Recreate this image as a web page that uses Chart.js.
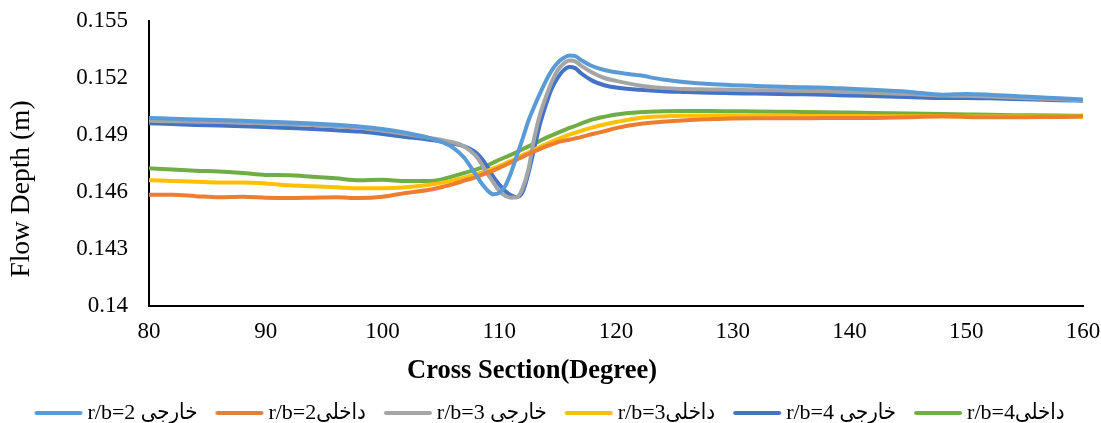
<!DOCTYPE html>
<html>
<head>
<meta charset="utf-8">
<script src="https://cdn.jsdelivr.net/npm/chart.js@4/dist/chart.umd.min.js"></script>
<style>
  html, body { margin: 0; padding: 0; background: #fff; }
  #wrap { width: 1101px; height: 423px; }
</style>
</head>
<body>
<div id="wrap"><canvas id="c" width="1101" height="423"></canvas></div>
<script>
// Cross-section positions (degrees) shared by every series
const degrees = [80, 82, 84, 86, 88, 90, 92, 94, 96, 98, 100, 102, 104, 105, 106, 107,
  108, 108.5, 109, 109.5, 110, 110.5, 111, 111.5, 112, 112.5, 113, 113.5, 114, 114.5,
  115, 115.5, 116, 116.5, 117, 118, 119, 120, 122, 124, 126, 128, 130, 132, 135, 138,
  140, 142, 145, 148, 150, 152, 155, 158, 160];

// Flow depth (m), outer wall, r/b = 2
const outer2 = [0.14990, 0.14986, 0.14982, 0.14979, 0.14975, 0.14970, 0.14966, 0.14961, 0.14954, 0.14945,
  0.14932, 0.14912, 0.14885, 0.14865, 0.14835, 0.14780,
  0.14690, 0.14645, 0.14608, 0.14588, 0.14595, 0.14630, 0.14700, 0.14790, 0.14880, 0.14975,
  0.15050, 0.15120, 0.15185, 0.15240, 0.15280, 0.15305, 0.15318, 0.15315, 0.15295,
  0.15262, 0.15242, 0.15230, 0.15214, 0.15192, 0.15178, 0.15168, 0.15162, 0.15158, 0.15153, 0.15149,
  0.15143, 0.15138, 0.15128, 0.15112, 0.15116, 0.15112, 0.15102, 0.15093, 0.15087];

// Flow depth (m), inner wall, r/b = 2
const inner2 = [0.14585, 0.14585, 0.14578, 0.14572, 0.14575, 0.14570, 0.14568, 0.14570, 0.14572, 0.14568,
  0.14575, 0.14595, 0.14612, 0.14625, 0.14640, 0.14660,
  0.14678, 0.14690, 0.14702, 0.14714, 0.14727, 0.14741, 0.14756, 0.14770, 0.14785, 0.14800,
  0.14813, 0.14827, 0.14840, 0.14851, 0.14862, 0.14869, 0.14875, 0.14882, 0.14889,
  0.14905, 0.14920, 0.14936, 0.14958, 0.14970, 0.14978, 0.14983, 0.14987, 0.14988, 0.14988, 0.14989,
  0.14989, 0.14990, 0.14993, 0.14999, 0.14995, 0.14993, 0.14994, 0.14995, 0.14997];

// Flow depth (m), outer wall, r/b = 3
const outer3 = [0.14975, 0.14972, 0.14970, 0.14968, 0.14965, 0.14960, 0.14957, 0.14953, 0.14946, 0.14938,
  0.14922, 0.14905, 0.14885, 0.14875, 0.14862, 0.14840,
  0.14790, 0.14745, 0.14695, 0.14650, 0.14605, 0.14580, 0.14570, 0.14572, 0.14620, 0.14720,
  0.14885, 0.15010, 0.15100, 0.15180, 0.15240, 0.15275, 0.15292, 0.15288, 0.15265,
  0.15228, 0.15200, 0.15185, 0.15161, 0.15148, 0.15142, 0.15140, 0.15138, 0.15136, 0.15134, 0.15130,
  0.15126, 0.15122, 0.15116, 0.15108, 0.15106, 0.15102, 0.15095, 0.15088, 0.15082];

// Flow depth (m), inner wall, r/b = 3
const inner3 = [0.14662, 0.14658, 0.14654, 0.14650, 0.14650, 0.14645, 0.14635, 0.14630, 0.14625, 0.14620,
  0.14620, 0.14625, 0.14638, 0.14648, 0.14660, 0.14675,
  0.14692, 0.14702, 0.14712, 0.14724, 0.14736, 0.14750, 0.14764, 0.14778, 0.14793, 0.14808,
  0.14822, 0.14837, 0.14851, 0.14865, 0.14878, 0.14890, 0.14902, 0.14912, 0.14922,
  0.14940, 0.14955, 0.14968, 0.14990, 0.14998, 0.15001, 0.15002, 0.15002, 0.15002, 0.15001, 0.15000,
  0.15000, 0.14999, 0.14999, 0.14999, 0.14997, 0.14997, 0.14997, 0.14997, 0.14997];

// Flow depth (m), outer wall, r/b = 4
const outer4 = [0.14962, 0.14958, 0.14953, 0.14950, 0.14946, 0.14942, 0.14937, 0.14932, 0.14925, 0.14918,
  0.14905, 0.14890, 0.14875, 0.14866, 0.14855, 0.14840,
  0.14808, 0.14775, 0.14730, 0.14680, 0.14640, 0.14605, 0.14583, 0.14573, 0.14600, 0.14700,
  0.14830, 0.14960, 0.15060, 0.15145, 0.15200, 0.15240, 0.15258, 0.15252, 0.15225,
  0.15185, 0.15162, 0.15150, 0.15138, 0.15130, 0.15126, 0.15122, 0.15120, 0.15118, 0.15115, 0.15112,
  0.15108, 0.15105, 0.15100, 0.15095, 0.15095, 0.15093, 0.15088, 0.15083, 0.15080];

// Flow depth (m), inner wall, r/b = 4
const inner4 = [0.14725, 0.14718, 0.14712, 0.14708, 0.14700, 0.14690, 0.14688, 0.14680, 0.14672, 0.14662,
  0.14664, 0.14658, 0.14658, 0.14665, 0.14682, 0.14700,
  0.14718, 0.14728, 0.14740, 0.14755, 0.14770, 0.14783, 0.14795, 0.14810, 0.14825, 0.14840,
  0.14855, 0.14870, 0.14885, 0.14898, 0.14911, 0.14924, 0.14937, 0.14948, 0.14960,
  0.14982, 0.14996, 0.15008, 0.15020, 0.15025, 0.15026, 0.15026, 0.15025, 0.15024, 0.15022, 0.15020,
  0.15018, 0.15016, 0.15013, 0.15010, 0.15008, 0.15006, 0.15004, 0.15002, 0.15001];

const seriesLabels = ['r/b=2 خارجی', 'r/b=2داخلی', 'r/b=3 خارجی', 'r/b=3داخلی', 'r/b=4 خارجی', 'r/b=4داخلی'];
const seriesColors = ['#5B9BD5', '#ED7D31', '#A5A5A5', '#FFC000', '#4472C4', '#70AD47'];
const seriesValues = [outer2, inner2, outer3, inner3, outer4, inner4];

// Axis ticks and titles
const xTicks = [80, 90, 100, 110, 120, 130, 140, 150, 160];
const yTicks = [0.14, 0.143, 0.146, 0.149, 0.152, 0.155];
const yTickLabels = ['0.14', '0.143', '0.146', '0.149', '0.152', '0.155'];
const xTitle = 'Cross Section(Degree)';
const yTitle = 'Flow Depth (m)';

const serif = "'Liberation Serif', 'Times New Roman', 'DejaVu Sans Condensed', serif";
Chart.defaults.font.family = serif;
Chart.defaults.color = '#000';

const SWATCH_BOX = 42;   // legend box width reserved before the text
const SWATCH_LINE = 48;  // drawn length of the legend line

// Legend swatch image: centred on the box by Chart.js, so the line is
// offset to start at the box's left edge and run a little past it.
function swatch(color) {
  const w = 2 * SWATCH_LINE - SWATCH_BOX + 4;
  const start = w / 2 - SWATCH_BOX / 2;
  const cv = document.createElement('canvas');
  cv.width = w; cv.height = 8;
  const g = cv.getContext('2d');
  g.strokeStyle = color;
  g.lineWidth = 4;
  g.lineCap = 'round';
  g.beginPath();
  g.moveTo(start + 2, 4);
  g.lineTo(start + SWATCH_LINE - 2, 4);
  g.stroke();
  return cv;
}

const datasets = seriesValues.map((vals, i) => ({
  label: seriesLabels[i],
  data: degrees.map((d, j) => ({ x: d, y: vals[j] })),
  borderColor: seriesColors[i],
  backgroundColor: seriesColors[i],
  borderWidth: 4,
  borderCapStyle: 'round',
  borderJoinStyle: 'round',
  pointRadius: 0,
  pointHoverRadius: 0,
  cubicInterpolationMode: 'monotone',
  fill: false
}));

// Fixed legend band height at the bottom of the canvas
const legendBand = {
  id: 'legendBand',
  afterInit(chart) {
    const lg = chart.legend;
    if (!lg) return;
    const fit = lg.fit.bind(lg);
    lg.fit = function () { fit(); this.height = 39; };
  }
};

// Axis titles, placed left of / below the plot area
const axisTitles = {
  id: 'axisTitles',
  afterDraw(chart) {
    const ctx = chart.ctx;
    ctx.save();
    ctx.fillStyle = '#000';
    ctx.textAlign = 'center';
    ctx.textBaseline = 'middle';
    ctx.font = 'bold 26.5px ' + serif;
    ctx.fillText(xTitle, 532, 371);
    ctx.translate(22, 189);
    ctx.rotate(-Math.PI / 2);
    ctx.font = '27.5px ' + serif;
    ctx.fillText(yTitle, 0, 0);
    ctx.restore();
  }
};

new Chart(document.getElementById('c'), {
  type: 'line',
  data: { datasets },
  plugins: [legendBand, axisTitles],
  options: {
    responsive: false,
    animation: false,
    events: [],
    layout: { padding: { left: 16, right: 18, top: 21, bottom: 0 } },
    plugins: {
      tooltip: { enabled: false },
      legend: {
        position: 'bottom',
        labels: {
          usePointStyle: true,
          pointStyleWidth: SWATCH_BOX,
          padding: 18,
          font: { size: 22, family: serif },
          color: '#000',
          generateLabels(chart) {
            return chart.data.datasets.map((ds, i) => ({
              text: ds.label,
              fillStyle: ds.borderColor,
              strokeStyle: ds.borderColor,
              lineWidth: 0,
              pointStyle: swatch(ds.borderColor),
              hidden: false,
              datasetIndex: i,
              fontColor: '#000'
            }));
          }
        }
      }
    },
    scales: {
      x: {
        type: 'linear',
        min: 80,
        max: 160,
        afterBuildTicks(scale) { scale.ticks = xTicks.map(v => ({ value: v })); },
        afterFit(scale) { scale.height = 78; scale.paddingLeft = 0; scale.paddingRight = 0; },
        ticks: { padding: 12, font: { size: 23 }, color: '#000', maxRotation: 0 },
        grid: { display: true, color: 'rgba(0,0,0,0)', drawTicks: false },
        border: { display: true, color: '#000', width: 2 }
      },
      y: {
        type: 'linear',
        min: 0.14,
        max: 0.155,
        afterBuildTicks(scale) { scale.ticks = yTicks.map(v => ({ value: v })); },
        afterFit(scale) { scale.width = 133; scale.paddingTop = 0; scale.paddingBottom = 0; },
        ticks: {
          padding: 21,
          font: { size: 23 },
          color: '#000',
          callback: (v, i) => yTickLabels[i]
        },
        grid: { display: true, color: 'rgba(0,0,0,0)', drawTicks: false },
        border: { display: true, color: '#000', width: 2 }
      }
    }
  }
});
</script>
</body>
</html>
